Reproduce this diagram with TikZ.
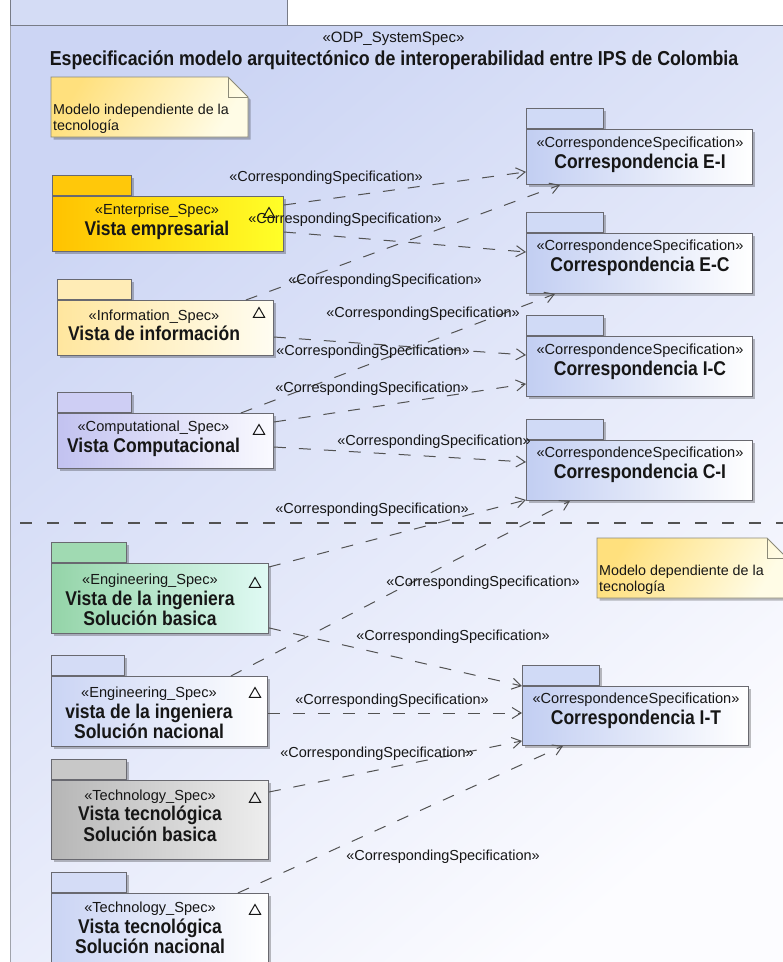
\documentclass[tikz,border=0pt]{standalone}
\usepackage{fontspec}
\setmainfont{Liberation Sans}
\newfontfamily\pkgnamefamily[FakeStretch=0.88]{Liberation Sans}
\usetikzlibrary{arrows.meta,shadows,shapes.geometric,calc}

% colours
\definecolor{bgA}{RGB}{204,213,244}
\definecolor{bgB}{RGB}{252,252,255}
\definecolor{tabbg}{RGB}{212,220,245}
\definecolor{frame}{RGB}{120,124,135}
\definecolor{pkgline}{RGB}{105,105,112}
\definecolor{txt}{RGB}{22,22,22}
\definecolor{lnk}{RGB}{82,82,82}
\definecolor{entL}{RGB}{255,194,0}
\definecolor{entR}{RGB}{255,255,40}
\definecolor{entT}{RGB}{255,200,10}
\definecolor{infL}{RGB}{255,230,158}
\definecolor{infR}{RGB}{255,253,242}
\definecolor{infT}{RGB}{255,236,182}
\definecolor{cmpL}{RGB}{194,194,240}
\definecolor{cmpR}{RGB}{250,250,255}
\definecolor{cmpT}{RGB}{206,206,244}
\definecolor{engL}{RGB}{148,212,168}
\definecolor{engR}{RGB}{224,250,244}
\definecolor{engT}{RGB}{160,218,178}
\definecolor{pkL}{RGB}{202,212,244}
\definecolor{pkR}{RGB}{255,255,255}
\definecolor{pkT}{RGB}{212,220,246}
\definecolor{tecL}{RGB}{182,182,182}
\definecolor{tecR}{RGB}{238,238,238}
\definecolor{tecT}{RGB}{200,200,200}
\definecolor{corL}{RGB}{194,206,242}
\definecolor{corR}{RGB}{255,255,255}
\definecolor{corT}{RGB}{208,218,246}
\definecolor{noteA}{RGB}{255,224,125}
\definecolor{noteB}{RGB}{255,252,230}
\definecolor{noteline}{RGB}{140,138,120}

% fonts
\newcommand\stereofont{\fontsize{14.6}{20.5}\selectfont}
\newcommand\pkgnamefont{\pkgnamefamily\bfseries\fontsize{19.9}{20.5}\selectfont}
\newcommand\lblfont{\fontsize{14.5}{17}\selectfont}
\newcommand\notefont{\fontsize{14.3}{16}\selectfont}

% a UML package: name, x, top of body, width, height, tab width, colours
\newcommand\umlpkg[9]{%
  \node[pkgtab, fill=#9, minimum width=#6pt] (#1-tab) at (#2,#3) {};
  \node[pkgbody, left color=#7, right color=#8, minimum width=#4pt, minimum height=#5pt] (#1) at (#2,#3) {};
}

\begin{document}
\begin{tikzpicture}[x=1pt,y=-1pt,
  shadowed/.style={drop shadow={shadow xshift=2.5pt,shadow yshift=-2.5pt,fill=black,opacity=0.25}},
  pkgbody/.style={rectangle, draw=pkgline, line width=0.9pt, inner sep=0pt, anchor=north west, shadowed},
  pkgtab/.style={rectangle, draw=pkgline, line width=0.9pt, inner sep=0pt, anchor=south west, minimum height=20pt, shadowed},
  pkgtext/.style={align=center, inner sep=0pt, font=\stereofont, text=txt},
  tri/.style={regular polygon, regular polygon sides=3, draw=txt, line width=1pt, minimum size=13pt, inner sep=0pt},
  conn/.style={draw=lnk, line width=1pt, dash pattern=on 12pt off 13pt, -{Straight Barb[length=9pt,width=11pt,line width=1pt]}},
  lbl/.style={font=\lblfont, text=txt, inner sep=0pt},
  notebox/.style={draw=noteline, line width=0.9pt, top color=noteA, bottom color=noteB, shading angle=60, shadowed},
  notetext/.style={font=\notefont, text=txt, align=left, inner sep=0pt, anchor=north west},
  sepline/.style={draw=lnk, line width=1.2pt, dash pattern=on 12pt off 15pt},
]
\useasboundingbox (0,0) rectangle (783,962);
\clip (0,0) rectangle (783,962);

% outer ODP system package
\fill[white] (0,0) rectangle (783,962);
\path[top color=bgA, bottom color=bgB, shading angle=40] (10,25) rectangle (800,980);
\draw[frame!70, line width=0.8pt] (10,980) -- (10,25);
\draw[frame, line width=0.8pt] (10,25) -- (800,25);
\filldraw[fill=tabbg, draw=frame, line width=0.8pt] (10,-5) rectangle (287,25);

\node[font=\fontsize{15}{17}\selectfont, text=txt, inner sep=0pt] (sysst) at (393.5,39) {«ODP\_SystemSpec»};
\node[font=\pkgnamefamily\bfseries\fontsize{20.2}{22}\selectfont, text=txt, inner sep=0pt] (systitle) at (394,60)
  {Especificación modelo arquitectónico de interoperabilidad entre IPS de Colombia};

% divider between the two model levels
\draw[sepline] (20,523) -- (800,523);

% notes
\path[notebox] (51,77) -- (228,77) -- (248,97) -- (248,137) -- (51,137) -- cycle;
\draw[noteline, line width=0.9pt] (228,77) -- (228,97) -- (248,97);
\node[notetext] (note1) at (53,103.8) {Modelo independiente de la\\tecnología};

\path[notebox] (597,538) -- (767,538) -- (787,558) -- (787,598) -- (597,598) -- cycle;
\draw[noteline, line width=0.9pt] (767,538) -- (767,558) -- (787,558);
\node[notetext] (note2) at (599,564.8) {Modelo dependiente de la\\tecnología};

% viewpoint packages
\umlpkg{ent}{52}{196}{231}{55}{79}{entL}{entR}{entT}
\umlpkg{inf}{57}{300}{216}{55}{74}{infL}{infR}{infT}
\umlpkg{cmp}{57}{413}{216}{55}{74}{cmpL}{cmpR}{cmpT}
\umlpkg{engb}{51}{563}{217}{70}{75}{engL}{engR}{engT}
\umlpkg{engn}{51}{676}{216}{70}{73}{pkL}{pkR}{pkT}
\umlpkg{tecb}{51}{780}{217}{79}{75}{tecL}{tecR}{tecT}
\umlpkg{tecn}{51}{893}{217}{90}{75}{pkL}{pkR}{pkT}

% correspondence packages
\umlpkg{cei}{526}{129}{226}{55}{77}{corL}{corR}{corT}
\umlpkg{cec}{526}{233}{226}{60}{77}{corL}{corR}{corT}
\umlpkg{cic}{526}{336}{226}{60}{77}{corL}{corR}{corT}
\umlpkg{cci}{526}{440}{226}{60}{77}{corL}{corR}{corT}
\umlpkg{cit}{522}{686}{226}{59}{77}{corL}{corR}{corT}

% package texts
\node[pkgtext] (ent-txt) at (157,222) {«Enterprise\_Spec»\\{\pkgnamefont Vista empresarial}};
\node[pkgtext] (inf-txt) at (154,325.5) {«Information\_Spec»\\{\pkgnamefont Vista de información}};
\node[pkgtext] (cmp-txt) at (153.5,439) {«Computational\_Spec»\\{\pkgnamefont Vista Computacional}};
\node[pkgtext] (engb-txt) at (150,600) {«Engineering\_Spec»\\{\pkgnamefont Vista de la ingeniera}\\{\pkgnamefont Solución basica}};
\node[pkgtext] (engn-txt) at (149,713) {«Engineering\_Spec»\\{\pkgnamefont vista de la ingeniera}\\{\pkgnamefont Solución nacional}};
\node[pkgtext] (tecb-txt) at (150,815.5) {«Technology\_Spec»\\{\pkgnamefont Vista tecnológica}\\{\pkgnamefont Solución basica}};
\node[pkgtext] (tecn-txt) at (150,928) {«Technology\_Spec»\\{\pkgnamefont Vista tecnológica}\\{\pkgnamefont Solución nacional}};

\node[pkgtext] (cei-txt) at (640,155) {«CorrespondenceSpecification»\\{\pkgnamefont Correspondencia E-I}};
\node[pkgtext] (cec-txt) at (640,258) {«CorrespondenceSpecification»\\{\pkgnamefont Correspondencia E-C}};
\node[pkgtext] (cic-txt) at (640,362) {«CorrespondenceSpecification»\\{\pkgnamefont Correspondencia I-C}};
\node[pkgtext] (cci-txt) at (640,465) {«CorrespondenceSpecification»\\{\pkgnamefont Correspondencia C-I}};
\node[pkgtext] (cit-txt) at (636,711) {«CorrespondenceSpecification»\\{\pkgnamefont Correspondencia I-T}};

% abstraction markers
\node[tri] (ent-tri) at (269,214) {};
\node[tri] (inf-tri) at (259,314) {};
\node[tri] (cmp-tri) at (259,431) {};
\node[tri] (engb-tri) at (255,584) {};
\node[tri] (engn-tri) at (255,694) {};
\node[tri] (tecb-tri) at (255,799) {};
\node[tri] (tecn-tri) at (255,911) {};

% correspondence dependencies
\draw[conn] ([yshift=-9pt]ent.north east) -- ([yshift=13pt]cei.south west);
\draw[conn] ([yshift=-36pt]ent.north east) -- ([yshift=-19pt]cec.north west);
\draw[conn] ([xshift=-28pt]inf.north east) -- ([xshift=34pt]cei.south west);
\draw[conn] ([xshift=-33pt]cmp.north east) -- ([xshift=29pt]cec.south west);
\draw[conn] ([yshift=-37pt]inf.north east) -- ([yshift=-19pt]cic.north west);
\draw[conn] ([yshift=-9pt]cmp.north east) -- ([yshift=13pt]cic.south west);
\draw[conn] ([yshift=-34pt]cmp.north east) -- ([yshift=-22pt]cci.north west);
\draw[conn] ([yshift=-4pt]engb.north east) -- ([yshift=1pt]cci.south west);
\draw[conn] ([xshift=-37pt]engn.north east) -- ([xshift=44pt]cci.south west);
\draw[conn] ([yshift=6pt]engb.south east) -- (cit.north west);
\draw[conn] ([yshift=-37pt]engn.north east) -- ([yshift=-27pt]cit.north west);
\draw[conn] ([yshift=-12pt]tecb.north east) -- ([yshift=5pt]cit.south west);
\draw[conn] ([xshift=-31pt]tecn.north east) -- ([xshift=41pt]cit.south west);

% dependency stereotypes
\node[lbl] (l1) at (326,178) {«CorrespondingSpecification»};
\node[lbl] (l2) at (345,220) {«CorrespondingSpecification»};
\node[lbl] (l3) at (385,281) {«CorrespondingSpecification»};
\node[lbl] (l4) at (423,314) {«CorrespondingSpecification»};
\node[lbl] (l5) at (373,352) {«CorrespondingSpecification»};
\node[lbl] (l6) at (372,389) {«CorrespondingSpecification»};
\node[lbl] (l7) at (434,442) {«CorrespondingSpecification»};
\node[lbl] (l8) at (372,510) {«CorrespondingSpecification»};
\node[lbl] (l9) at (483,583) {«CorrespondingSpecification»};
\node[lbl] (l10) at (453,637) {«CorrespondingSpecification»};
\node[lbl] (l11) at (392,701) {«CorrespondingSpecification»};
\node[lbl] (l12) at (377,754) {«CorrespondingSpecification»};
\node[lbl] (l13) at (443,857) {«CorrespondingSpecification»};
\end{tikzpicture}
\end{document}
